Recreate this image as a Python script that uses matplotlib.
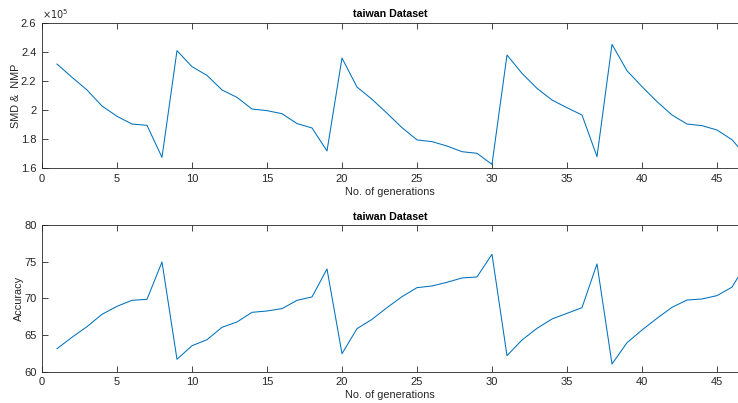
import matplotlib
matplotlib.use("Agg")
import matplotlib.pyplot as plt
from matplotlib.ticker import FuncFormatter, MultipleLocator

plt.rcParams['font.family'] = ['Liberation Sans', 'DejaVu Sans']

generations = list(range(1, 48))

smd_nmp = [
    231600, 222500, 213800, 202800, 195700, 190400, 189500, 167500, 240800, 229800,
    223800, 213800, 208700, 200700, 199600, 197500, 190700, 187700, 171900, 235700,
    215800, 207400, 197800, 187900, 179500, 178300, 175300, 171400, 170300, 162700,
    237800, 225200, 214900, 206900, 201600, 196600, 168000, 245100, 227000, 216100,
    205800, 196600, 190400, 189300, 186300, 179600, 167800,
]

accuracy = [
    63.14, 64.70, 66.15, 67.84, 68.93, 69.75, 69.89, 74.99, 61.69, 63.55,
    64.37, 66.06, 66.79, 68.11, 68.29, 68.61, 69.75, 70.21, 74.03, 62.46,
    65.88, 67.15, 68.75, 70.25, 71.48, 71.71, 72.21, 72.80, 72.94, 76.04,
    62.19, 64.33, 65.92, 67.20, 67.97, 68.75, 74.72, 61.05, 63.96, 65.69,
    67.29, 68.79, 69.79, 69.93, 70.39, 71.55, 74.90,
]

title = "taiwan Dataset"
xlabel = "No. of generations"

line_color = "#0072BD"
axis_color = "#262626"

fig = plt.figure(figsize=(7.38, 4.03), dpi=100)
ax1 = fig.add_axes([0.0569, 0.5824, 0.9431, 0.3613])
ax2 = fig.add_axes([0.0569, 0.0777, 0.9431, 0.3633])


def style(ax):
    for side in ("left", "bottom", "top"):
        ax.spines[side].set_color(axis_color)
        ax.spines[side].set_linewidth(0.6)
    ax.spines["right"].set_visible(False)
    ax.tick_params(direction="in", length=4.5, width=0.6, colors=axis_color,
                   labelsize=8, top=True, right=False, pad=4)
    ax.set_xlim(0, 46.4)
    ax.xaxis.set_major_locator(MultipleLocator(5))
    ax.set_title(title, fontsize=7.7, fontweight="bold", color="black", pad=4)
    ax.set_xlabel(xlabel, fontsize=7.8, color=axis_color, labelpad=2)


ax1.plot(generations, smd_nmp, color=line_color, linewidth=0.75)
style(ax1)
ax1.set_ylim(160000, 260000)
ax1.yaxis.set_major_locator(MultipleLocator(20000))
ax1.yaxis.set_major_formatter(FuncFormatter(lambda v, p: "%g" % round(v / 1e5, 2)))
ax1.set_ylabel("SMD &  NMP", fontsize=7.8, color=axis_color, labelpad=0)
ax1.text(0.0, 1.012, r"$\times10^{5}$", transform=ax1.transAxes, fontsize=7,
         color=axis_color, ha="left", va="bottom")

ax2.plot(generations, accuracy, color=line_color, linewidth=0.75)
style(ax2)
ax2.set_ylim(60, 80)
ax2.yaxis.set_major_locator(MultipleLocator(5))
ax2.set_ylabel("Accuracy", fontsize=7.8, color=axis_color, labelpad=0)

fig.savefig("out.png", dpi=100)
